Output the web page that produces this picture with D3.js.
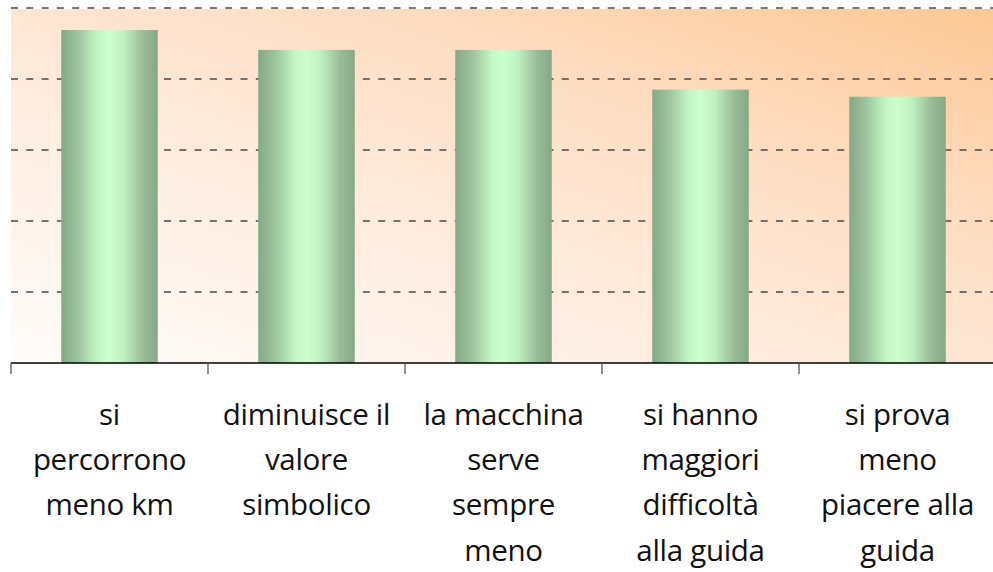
<!DOCTYPE html>
<html>
<head>
<meta charset="utf-8">
<script src="https://cdn.jsdelivr.net/npm/d3@7"></script>
<style>
  body { margin: 0; background: #fff; }
  .cat-label { font-family: "Open Sans", Lato, sans-serif; font-size: 29.5px; fill: #111; letter-spacing: -0.3px; }
</style>
</head>
<body>
<div id="chart"></div>
<script>
// data
const categories = [
  "si percorrono meno km",
  "diminuisce il valore simbolico",
  "la macchina serve sempre meno",
  "si hanno maggiori difficoltà alla guida",
  "si prova meno piacere alla guida"
];
const labelLines = [
  ["si", "percorrono", "meno km"],
  ["diminuisce il", "valore", "simbolico"],
  ["la macchina", "serve", "sempre", "meno"],
  ["si hanno", "maggiori", "difficoltà", "alla guida"],
  ["si prova", "meno", "piacere alla", "guida"]
];
const values = [46.9, 44.1, 44.1, 38.5, 37.5];
const gridTicks = [10, 20, 30, 40, 50];

const W = 993, H = 572;
const margin = { top: 8, right: -3, bottom: 209, left: 11 };
const width = W - margin.left - margin.right;
const height = H - margin.top - margin.bottom;

const svg = d3.select("#chart")
  .append("svg")
  .attr("width", W)
  .attr("height", H);

const defs = svg.append("defs");

const bg = defs.append("linearGradient")
  .attr("id", "bg-grad")
  .attr("x1", "0%").attr("y1", "100%")
  .attr("x2", "100%").attr("y2", "0%");
bg.append("stop").attr("offset", "0%").attr("stop-color", "#fffcfa");
bg.append("stop").attr("offset", "35%").attr("stop-color", "#ffeee2");
bg.append("stop").attr("offset", "70%").attr("stop-color", "#fedcc0");
bg.append("stop").attr("offset", "100%").attr("stop-color", "#fdc894");

const barGrad = defs.append("linearGradient")
  .attr("id", "bar-grad")
  .attr("x1", "0%").attr("y1", "0%")
  .attr("x2", "100%").attr("y2", "0%");
barGrad.append("stop").attr("offset", "0%").attr("stop-color", "#86a886");
barGrad.append("stop").attr("offset", "18%").attr("stop-color", "#9ec49f");
barGrad.append("stop").attr("offset", "38%").attr("stop-color", "#c4f6c4");
barGrad.append("stop").attr("offset", "50%").attr("stop-color", "#ccffcc");
barGrad.append("stop").attr("offset", "65%").attr("stop-color", "#c0f0c0");
barGrad.append("stop").attr("offset", "85%").attr("stop-color", "#98bb98");
barGrad.append("stop").attr("offset", "100%").attr("stop-color", "#86a886");

const g = svg.append("g")
  .attr("transform", `translate(${margin.left},${margin.top})`);

const xScale = d3.scaleBand()
  .domain(categories)
  .range([0, width])
  .paddingInner(0.51)
  .paddingOuter(0.255);

const yScale = d3.scaleLinear()
  .domain([0, 50])
  .range([height, 0]);

// plot background
g.append("rect")
  .attr("x", 0)
  .attr("y", 1)
  .attr("width", width)
  .attr("height", height - 1)
  .attr("fill", "url(#bg-grad)");

// dashed gridlines
g.selectAll(".grid")
  .data(gridTicks)
  .enter()
  .append("line")
  .attr("class", "grid")
  .attr("x1", 0)
  .attr("x2", width)
  .attr("y1", d => yScale(d))
  .attr("y2", d => yScale(d))
  .attr("stroke", "#4a4a4a")
  .attr("stroke-width", 1.5)
  .attr("stroke-dasharray", "7,8.3");

// bars
g.selectAll(".bar")
  .data(values)
  .enter()
  .append("rect")
  .attr("class", "bar")
  .attr("x", (d, i) => xScale(categories[i]))
  .attr("y", d => yScale(d))
  .attr("width", xScale.bandwidth())
  .attr("height", d => height - yScale(d))
  .attr("fill", "url(#bar-grad)");

// x axis line and ticks between categories
g.append("line")
  .attr("x1", 0)
  .attr("x2", width)
  .attr("y1", height)
  .attr("y2", height)
  .attr("stroke", "#000")
  .attr("stroke-width", 1.5);

const step = xScale.step();
const tickXs = categories.map(c => xScale(c) - step * xScale.paddingInner() / 2);
g.selectAll(".xtick")
  .data(tickXs)
  .enter()
  .append("line")
  .attr("class", "xtick")
  .attr("x1", d => d)
  .attr("x2", d => d)
  .attr("y1", height)
  .attr("y2", height + 11)
  .attr("stroke", "#555")
  .attr("stroke-width", 1.3);

// category labels
const labels = g.selectAll(".cat-label")
  .data(categories)
  .enter()
  .append("text")
  .attr("class", "cat-label")
  .attr("text-anchor", "middle")
  .attr("transform", d => `translate(${xScale(d) + xScale.bandwidth() / 2},${height + 62})`);

labels.each(function(d, i) {
  d3.select(this).selectAll("tspan")
    .data(labelLines[i])
    .enter()
    .append("tspan")
    .attr("x", 0)
    .attr("y", (t, j) => j * 45.2)
    .text(t => t);
});
</script>
</body>
</html>
